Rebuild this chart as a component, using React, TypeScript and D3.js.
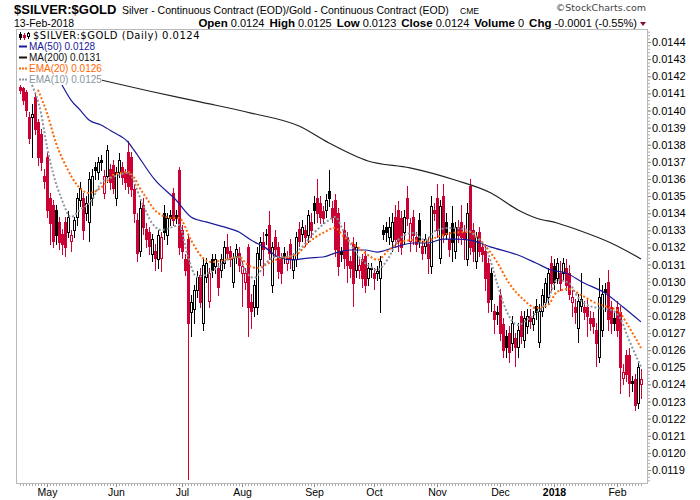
import React, { useRef, useEffect } from 'react';
import * as d3 from 'd3';

// daily candles, 19-Apr-2017 .. 13-Feb-2018 (index = trading day)
const open = [
  0.01414, 0.01413, 0.01411, 0.01396, 0.01396, 0.01408, 0.01393, 0.01386, 0.01362, 0.01373,
  0.01349, 0.01345, 0.01342, 0.01335, 0.01328, 0.01335, 0.01329, 0.01324, 0.01330, 0.01338,
  0.01348, 0.01349, 0.01340, 0.01335, 0.01349, 0.01367, 0.01364, 0.01371, 0.01352, 0.01362,
  0.01366, 0.01368, 0.01349, 0.01364, 0.01367, 0.01364, 0.01376, 0.01373, 0.01354, 0.01336,
  0.01318, 0.01345, 0.01331, 0.01329, 0.01316, 0.01318, 0.01313, 0.01314, 0.01340, 0.01327,
  0.01339, 0.01352, 0.01339, 0.01365, 0.01330, 0.01313, 0.01325, 0.01282, 0.01284, 0.01295,
  0.01304, 0.01276, 0.01303, 0.01289, 0.01313, 0.01309, 0.01308, 0.01307, 0.01311, 0.01320,
  0.01318, 0.01300, 0.01315, 0.01317, 0.01305, 0.01300, 0.01320, 0.01288, 0.01285, 0.01285,
  0.01313, 0.01323, 0.01328, 0.01333, 0.01298, 0.01326, 0.01320, 0.01314, 0.01317, 0.01311,
  0.01322, 0.01307, 0.01313, 0.01331, 0.01328, 0.01330, 0.01327, 0.01335, 0.01346, 0.01349,
  0.01346, 0.01341, 0.01342, 0.01353, 0.01343, 0.01348, 0.01340, 0.01318, 0.01330, 0.01326,
  0.01312, 0.01322, 0.01307, 0.01307, 0.01313, 0.01315, 0.01302, 0.01308, 0.01305, 0.01305,
  0.01302, 0.01330, 0.01332, 0.01326, 0.01324, 0.01338, 0.01342, 0.01337, 0.01329, 0.01349,
  0.01324, 0.01338, 0.01326, 0.01336, 0.01321, 0.01321, 0.01322, 0.01309, 0.01342, 0.01349,
  0.01314, 0.01350, 0.01335, 0.01325, 0.01334, 0.01318, 0.01332, 0.01335, 0.01329, 0.01313,
  0.01356, 0.01330, 0.01312, 0.01329, 0.01320, 0.01318, 0.01311, 0.01305, 0.01283, 0.01282,
  0.01292, 0.01275, 0.01268, 0.01270, 0.01264, 0.01267, 0.01262, 0.01280, 0.01266, 0.01274,
  0.01280, 0.01275, 0.01286, 0.01265, 0.01283, 0.01288, 0.01291, 0.01311, 0.01309, 0.01302,
  0.01305, 0.01305, 0.01308, 0.01305, 0.01288, 0.01285, 0.01273, 0.01286, 0.01285, 0.01285,
  0.01279, 0.01279, 0.01272, 0.01256, 0.01272, 0.01296, 0.01300, 0.01285, 0.01279, 0.01285,
  0.01282, 0.01244, 0.01257, 0.01257, 0.01242, 0.01243, 0.01229, 0.01240,
];
const high = [
  0.01415, 0.01414, 0.01412, 0.01399, 0.01404, 0.01410, 0.01395, 0.01389, 0.01366, 0.01376,
  0.01352, 0.01348, 0.01345, 0.01338, 0.01331, 0.01338, 0.01341, 0.01330, 0.01338, 0.01352,
  0.01358, 0.01352, 0.01350, 0.01364, 0.01366, 0.01370, 0.01373, 0.01374, 0.01365, 0.01380,
  0.01369, 0.01371, 0.01367, 0.01375, 0.01370, 0.01366, 0.01382, 0.01376, 0.01357, 0.01340,
  0.01347, 0.01349, 0.01334, 0.01332, 0.01328, 0.01322, 0.01330, 0.01329, 0.01345, 0.01340,
  0.01342, 0.01355, 0.01342, 0.01367, 0.01333, 0.01316, 0.01328, 0.01292, 0.01298, 0.01306,
  0.01308, 0.01313, 0.01314, 0.01308, 0.01316, 0.01316, 0.01311, 0.01316, 0.01324, 0.01328,
  0.01321, 0.01317, 0.01322, 0.01320, 0.01312, 0.01308, 0.01322, 0.01293, 0.01301, 0.01320,
  0.01326, 0.01329, 0.01331, 0.01341, 0.01323, 0.01330, 0.01323, 0.01317, 0.01320, 0.01318,
  0.01325, 0.01317, 0.01329, 0.01335, 0.01336, 0.01333, 0.01342, 0.01340, 0.01350, 0.01360,
  0.01350, 0.01344, 0.01351, 0.01365, 0.01347, 0.01351, 0.01343, 0.01320, 0.01335, 0.01329,
  0.01315, 0.01326, 0.01323, 0.01313, 0.01316, 0.01318, 0.01311, 0.01311, 0.01308, 0.01309,
  0.01315, 0.01333, 0.01335, 0.01338, 0.01340, 0.01345, 0.01347, 0.01341, 0.01342, 0.01356,
  0.01337, 0.01342, 0.01329, 0.01340, 0.01324, 0.01328, 0.01326, 0.01350, 0.01346, 0.01357,
  0.01348, 0.01357, 0.01340, 0.01329, 0.01344, 0.01335, 0.01336, 0.01345, 0.01333, 0.01346,
  0.01360, 0.01334, 0.01329, 0.01332, 0.01323, 0.01322, 0.01314, 0.01308, 0.01287, 0.01286,
  0.01296, 0.01279, 0.01272, 0.01274, 0.01280, 0.01270, 0.01276, 0.01283, 0.01283, 0.01284,
  0.01284, 0.01283, 0.01290, 0.01287, 0.01296, 0.01302, 0.01308, 0.01315, 0.01313, 0.01314,
  0.01312, 0.01314, 0.01313, 0.01310, 0.01295, 0.01290, 0.01293, 0.01305, 0.01289, 0.01290,
  0.01283, 0.01282, 0.01276, 0.01302, 0.01298, 0.01299, 0.01307, 0.01289, 0.01283, 0.01289,
  0.01286, 0.01252, 0.01260, 0.01261, 0.01245, 0.01246, 0.01253, 0.01249,
];
const low = [
  0.01410, 0.01404, 0.01397, 0.01381, 0.01373, 0.01386, 0.01368, 0.01365, 0.01355, 0.01338,
  0.01322, 0.01320, 0.01322, 0.01319, 0.01316, 0.01315, 0.01326, 0.01318, 0.01326, 0.01333,
  0.01344, 0.01325, 0.01336, 0.01324, 0.01345, 0.01360, 0.01360, 0.01365, 0.01349, 0.01358,
  0.01354, 0.01352, 0.01345, 0.01361, 0.01357, 0.01354, 0.01352, 0.01350, 0.01335, 0.01312,
  0.01315, 0.01328, 0.01320, 0.01316, 0.01312, 0.01307, 0.01308, 0.01306, 0.01325, 0.01322,
  0.01333, 0.01333, 0.01334, 0.01316, 0.01314, 0.01304, 0.01185, 0.01268, 0.01276, 0.01291,
  0.01285, 0.01272, 0.01300, 0.01285, 0.01303, 0.01305, 0.01292, 0.01303, 0.01308, 0.01313,
  0.01309, 0.01297, 0.01311, 0.01306, 0.01286, 0.01296, 0.01268, 0.01273, 0.01280, 0.01281,
  0.01310, 0.01304, 0.01322, 0.01313, 0.01294, 0.01315, 0.01302, 0.01299, 0.01311, 0.01307,
  0.01308, 0.01302, 0.01309, 0.01321, 0.01324, 0.01321, 0.01323, 0.01326, 0.01334, 0.01335,
  0.01334, 0.01334, 0.01338, 0.01344, 0.01335, 0.01315, 0.01304, 0.01312, 0.01308, 0.01300,
  0.01303, 0.01286, 0.01303, 0.01302, 0.01297, 0.01294, 0.01298, 0.01303, 0.01296, 0.01301,
  0.01282, 0.01325, 0.01324, 0.01322, 0.01318, 0.01320, 0.01318, 0.01316, 0.01322, 0.01333,
  0.01318, 0.01322, 0.01318, 0.01320, 0.01313, 0.01317, 0.01305, 0.01305, 0.01336, 0.01326,
  0.01311, 0.01323, 0.01325, 0.01315, 0.01312, 0.01314, 0.01323, 0.01322, 0.01313, 0.01310,
  0.01316, 0.01312, 0.01308, 0.01315, 0.01312, 0.01295, 0.01282, 0.01283, 0.01270, 0.01275,
  0.01266, 0.01256, 0.01256, 0.01253, 0.01260, 0.01251, 0.01256, 0.01264, 0.01262, 0.01270,
  0.01273, 0.01272, 0.01278, 0.01262, 0.01280, 0.01285, 0.01287, 0.01295, 0.01296, 0.01299,
  0.01295, 0.01301, 0.01295, 0.01290, 0.01280, 0.01276, 0.01265, 0.01283, 0.01278, 0.01268,
  0.01272, 0.01270, 0.01251, 0.01253, 0.01268, 0.01283, 0.01272, 0.01270, 0.01272, 0.01268,
  0.01235, 0.01240, 0.01242, 0.01233, 0.01236, 0.01225, 0.01226, 0.01232,
];
const close = [
  0.01412, 0.01406, 0.01400, 0.01384, 0.01398, 0.01389, 0.01373, 0.01370, 0.01359, 0.01342,
  0.01334, 0.01324, 0.01327, 0.01323, 0.01322, 0.01320, 0.01338, 0.01327, 0.01336, 0.01349,
  0.01355, 0.01330, 0.01346, 0.01360, 0.01362, 0.01365, 0.01370, 0.01370, 0.01362, 0.01377,
  0.01358, 0.01355, 0.01364, 0.01371, 0.01361, 0.01358, 0.01356, 0.01354, 0.01340, 0.01317,
  0.01343, 0.01332, 0.01325, 0.01321, 0.01325, 0.01314, 0.01327, 0.01326, 0.01329, 0.01337,
  0.01337, 0.01336, 0.01337, 0.01320, 0.01318, 0.01307, 0.01276, 0.01288, 0.01295, 0.01303,
  0.01288, 0.01310, 0.01311, 0.01305, 0.01307, 0.01313, 0.01297, 0.01313, 0.01320, 0.01317,
  0.01313, 0.01314, 0.01319, 0.01310, 0.01309, 0.01305, 0.01285, 0.01283, 0.01298, 0.01317,
  0.01323, 0.01319, 0.01327, 0.01317, 0.01320, 0.01319, 0.01306, 0.01305, 0.01315, 0.01314,
  0.01313, 0.01313, 0.01326, 0.01324, 0.01332, 0.01326, 0.01339, 0.01330, 0.01342, 0.01340,
  0.01338, 0.01337, 0.01348, 0.01349, 0.01338, 0.01319, 0.01309, 0.01316, 0.01314, 0.01310,
  0.01308, 0.01299, 0.01320, 0.01310, 0.01302, 0.01298, 0.01308, 0.01308, 0.01302, 0.01306,
  0.01312, 0.01328, 0.01329, 0.01332, 0.01335, 0.01325, 0.01324, 0.01320, 0.01338, 0.01337,
  0.01334, 0.01327, 0.01322, 0.01324, 0.01317, 0.01325, 0.01314, 0.01344, 0.01340, 0.01330,
  0.01344, 0.01327, 0.01328, 0.01319, 0.01323, 0.01332, 0.01327, 0.01326, 0.01325, 0.01340,
  0.01320, 0.01318, 0.01326, 0.01318, 0.01316, 0.01302, 0.01288, 0.01290, 0.01278, 0.01281,
  0.01270, 0.01260, 0.01262, 0.01259, 0.01276, 0.01262, 0.01272, 0.01268, 0.01279, 0.01280,
  0.01277, 0.01279, 0.01282, 0.01283, 0.01292, 0.01299, 0.01305, 0.01299, 0.01300, 0.01311,
  0.01299, 0.01311, 0.01298, 0.01293, 0.01291, 0.01282, 0.01289, 0.01290, 0.01282, 0.01280,
  0.01276, 0.01274, 0.01264, 0.01291, 0.01293, 0.01294, 0.01278, 0.01276, 0.01276, 0.01272,
  0.01250, 0.01247, 0.01246, 0.01241, 0.01241, 0.01228, 0.01250, 0.01243,
];

// overlays: [trading day, value]
const ma50: [number, number][] = [
  [14, 0.014149], [17, 0.014061], [20, 0.014003], [23, 0.013944], [27, 0.013915], [31, 0.013874],
  [36, 0.013816], [38, 0.013769], [45, 0.013594], [52, 0.013477], [57, 0.013378], [62, 0.013349],
  [68, 0.013320], [73, 0.013290], [77, 0.013243], [82, 0.013196], [86, 0.013144], [91, 0.013127],
  [96, 0.013138], [101, 0.013144], [105, 0.013167], [110, 0.013185], [115, 0.013185], [119, 0.013173],
  [125, 0.013202], [131, 0.013226], [136, 0.013226], [141, 0.013249], [145, 0.013249], [150, 0.013243],
  [157, 0.013202], [166, 0.013156], [172, 0.013109], [177, 0.013068], [182, 0.013051], [188, 0.012992],
  [195, 0.012934], [201, 0.012852], [207, 0.012765],
];
const ma200: [number, number][] = [
  [27, 0.014178], [43, 0.014114], [60, 0.014050], [77, 0.013985], [93, 0.013909], [103, 0.013810],
  [116, 0.013705], [130, 0.013665], [145, 0.013594], [157, 0.013518], [166, 0.013419], [172, 0.013372],
  [179, 0.013343], [186, 0.013302], [197, 0.013226], [207, 0.013133],
];
const ema20: [number, number][] = [
  [6, 0.014120], [9, 0.013985], [12, 0.013810], [16, 0.013652], [19, 0.013565], [23, 0.013518],
  [28, 0.013565], [31, 0.013623], [36, 0.013641], [41, 0.013518], [46, 0.013401], [51, 0.013372],
  [53, 0.013372], [57, 0.013243], [61, 0.013138], [64, 0.013115], [68, 0.013127], [73, 0.013144],
  [76, 0.013097], [79, 0.013080], [83, 0.013109], [87, 0.013138], [92, 0.013156], [96, 0.013226],
  [101, 0.013285], [105, 0.013314], [108, 0.013261], [113, 0.013196], [117, 0.013144], [119, 0.013127],
  [123, 0.013185], [126, 0.013226], [131, 0.013243], [135, 0.013232], [139, 0.013261], [144, 0.013285],
  [150, 0.013290], [154, 0.013232], [159, 0.013115], [163, 0.012992], [168, 0.012893], [172, 0.012846],
  [176, 0.012864], [179, 0.012940], [183, 0.012957], [187, 0.012922], [192, 0.012875], [196, 0.012852],
  [199, 0.012835], [203, 0.012735], [207, 0.012613],
];
const ema10: [number, number][] = [
  [4, 0.014149], [7, 0.013985], [9, 0.013787], [11, 0.013635], [14, 0.013477], [17, 0.013378],
  [20, 0.013419], [24, 0.013477], [27, 0.013576], [31, 0.013611], [36, 0.013635], [41, 0.013448],
  [44, 0.013343], [47, 0.013302], [51, 0.013320], [53, 0.013331], [56, 0.013144], [59, 0.013027],
  [63, 0.013051], [66, 0.013086], [69, 0.013127], [73, 0.013144], [75, 0.013068], [78, 0.013022],
  [82, 0.013109], [85, 0.013144], [89, 0.013144], [94, 0.013202], [98, 0.013285], [103, 0.013360],
  [105, 0.013378], [108, 0.013290], [113, 0.013144], [117, 0.013086], [119, 0.013068], [123, 0.013144],
  [126, 0.013243], [131, 0.013285], [135, 0.013243], [139, 0.013302], [144, 0.013314], [149, 0.013302],
  [152, 0.013261], [156, 0.013168], [159, 0.012992], [162, 0.012835], [166, 0.012747], [169, 0.012776],
  [172, 0.012817], [176, 0.012893], [179, 0.013010], [183, 0.012992], [186, 0.012909], [189, 0.012864],
  [193, 0.012846], [197, 0.012835], [200, 0.012788], [203, 0.012660], [207, 0.012502],
];

// first trading day of each month and its label
const monthDays = [9, 32, 54, 74, 98, 118, 139, 160, 178, 199];
const monthLabels = ['May', 'Jun', 'Jul', 'Aug', 'Sep', 'Oct', 'Nov', 'Dec', '2018', 'Feb'];

const priceTicks = [
  0.0119, 0.0120, 0.0121, 0.0122, 0.0123, 0.0124, 0.0125, 0.0126, 0.0127, 0.0128, 0.0129, 0.0130, 0.0131,
  0.0132, 0.0133, 0.0134, 0.0135, 0.0136, 0.0137, 0.0138, 0.0139, 0.0140, 0.0141, 0.0142, 0.0143, 0.0144,
];

const quoteLabels = ['Open', 'High', 'Low', 'Close', 'Volume', 'Chg'];
const quoteValues = ['0.0124', '0.0125', '0.0123', '0.0124', '0', '-0.0001 (-0.55%)'];

const overlayNames = ['MA(50) 0.0128', 'MA(200) 0.0131', 'EMA(20) 0.0126', 'EMA(10) 0.0125'];

const RED = '#cc0033';
const BLUE = '#1a1a9a';
const ORANGE = '#ff6600';
const GREY = '#8a96a2';
const SANS = "'Liberation Sans', Arial, sans-serif";
const VERD = "'DejaVu Sans', Verdana, sans-serif";

const App: React.FC = () => {
  const svgRef = useRef<SVGSVGElement | null>(null);

  const width = 700;
  const height = 500;
  const plotLeft = 16;
  const plotRight = 647;
  const plotTop = 29;
  const plotBottom = 483;

  useEffect(() => {
    if (!svgRef.current) {
      return;
    }
    const svg = d3.select(svgRef.current);
    svg.selectAll('*').remove();

    const days = d3.range(close.length);
    const x = d3.scalePoint<number>().domain(days).range([20, 641]);
    const y = d3.scaleLinear().domain([0.0119, 0.0144]).range([470, 42]);
    const px = (i: number) => Math.round(x(i) ?? 0);
    const py = (v: number) => Math.round(y(v));

    svg.append('rect').attr('width', width).attr('height', height).attr('fill', '#fff');

    // header
    svg.append('text').attr('x', 14).attr('y', 13.5)
      .attr('font-family', SANS).attr('font-size', 13).attr('font-weight', 'bold')
      .text('$SILVER:$GOLD');
    svg.append('text').attr('x', 122).attr('y', 14)
      .attr('font-family', SANS).attr('font-size', 10.5)
      .text('Silver - Continuous Contract (EOD)/Gold - Continuous Contract (EOD)');
    svg.append('text').attr('x', 460).attr('y', 14)
      .attr('font-family', SANS).attr('font-size', 8.5)
      .text('CME');
    svg.append('text').attr('x', 646).attr('y', 11).attr('text-anchor', 'end')
      .attr('font-family', VERD).attr('font-size', 9.5).attr('fill', '#444')
      .text('\u00A9StockCharts.com');
    svg.append('text').attr('x', 14).attr('y', 26.5)
      .attr('font-family', SANS).attr('font-size', 10.5)
      .text('13-Feb-2018');

    const quote = svg.append('text').attr('x', 637).attr('y', 26.5).attr('text-anchor', 'end')
      .attr('font-family', SANS).attr('font-size', 11);
    quoteLabels.forEach((lab, i) => {
      quote.append('tspan').attr('dx', i === 0 ? 0 : 5).attr('font-weight', 'bold')
        .attr('font-size', 11.5).text(lab);
      quote.append('tspan').attr('dx', 3).text(quoteValues[i]);
    });
    svg.append('path').attr('d', 'M640,22 L646,22 L643,26 Z').attr('fill', '#8b0a2a');

    // frame
    svg.append('rect')
      .attr('x', plotLeft + 0.5).attr('y', plotTop + 0.5)
      .attr('width', plotRight - plotLeft).attr('height', plotBottom - plotTop)
      .attr('fill', 'none').attr('stroke', '#b8b8b8');

    // right price axis with minor ticks
    svg.append('g')
      .attr('transform', `translate(${plotRight + 1},0)`)
      .call(d3.axisRight(y).tickValues(d3.range(0.01184, 0.01448, 0.00002)).tickSize(2).tickFormat(() => ''))
      .call(g => g.select('.domain').remove())
      .call(g => g.selectAll('line').attr('stroke', '#aaa'));
    svg.append('g')
      .attr('transform', `translate(${plotRight + 1},0)`)
      .call(d3.axisRight(y).tickValues(priceTicks).tickSize(3).tickPadding(1).tickFormat(d3.format('.4f')))
      .call(g => g.select('.domain').remove())
      .call(g => g.selectAll('line').attr('stroke', '#888'))
      .call(g => g.selectAll('text').attr('font-family', SANS).attr('font-size', 11).attr('fill', '#000'));

    // bottom axis: daily ticks and month labels
    svg.append('g')
      .attr('transform', `translate(0,${plotBottom + 1})`)
      .call(d3.axisBottom(x).tickValues(days).tickSize(2).tickFormat(() => ''))
      .call(g => g.select('.domain').remove())
      .call(g => g.selectAll('line').attr('stroke', '#aaa').attr('shape-rendering', 'crispEdges'));
    svg.append('g')
      .attr('transform', `translate(0,${plotBottom + 1})`)
      .call(d3.axisBottom(x).tickValues(monthDays).tickSize(3).tickPadding(2)
        .tickFormat((d) => monthLabels[monthDays.indexOf(d as number)]))
      .call(g => g.select('.domain').remove())
      .call(g => g.selectAll('line').attr('stroke', '#888'))
      .call(g => g.selectAll('text')
        .attr('font-family', SANS).attr('font-size', 10.5).attr('fill', '#000')
        .attr('font-weight', (d) => (d === 178 ? 'bold' : 'normal')));

    // candles
    const candles = svg.append('g').attr('shape-rendering', 'crispEdges');
    days.forEach((i) => {
      const up = close[i] >= open[i];
      const color = i > 0 && close[i] >= close[i - 1] ? '#000' : RED;
      const cx = px(i);
      candles.append('line')
        .attr('x1', cx + 0.5).attr('x2', cx + 0.5)
        .attr('y1', py(high[i])).attr('y2', py(low[i]) + 1)
        .attr('stroke', color);
      const top = py(Math.max(open[i], close[i]));
      const bot = py(Math.min(open[i], close[i]));
      if (up) {
        candles.append('rect')
          .attr('x', cx - 0.5).attr('y', top + 0.5)
          .attr('width', 2).attr('height', Math.max(1, bot - top))
          .attr('fill', '#fff').attr('stroke', color);
      } else {
        candles.append('rect')
          .attr('x', cx - 1).attr('y', top)
          .attr('width', 3).attr('height', Math.max(1, bot - top + 1))
          .attr('fill', color);
      }
    });

    // overlays
    const line = d3.line<[number, number]>()
      .x(d => x(d[0]) ?? 0)
      .y(d => y(d[1]))
      .curve(d3.curveMonotoneX);

    svg.append('path').datum(ma200).attr('d', line)
      .attr('fill', 'none').attr('stroke', '#222').attr('stroke-width', 1.2);
    svg.append('path').datum(ma50).attr('d', line)
      .attr('fill', 'none').attr('stroke', BLUE).attr('stroke-width', 1.2);
    svg.append('path').datum(ema20).attr('d', line)
      .attr('fill', 'none').attr('stroke', ORANGE).attr('stroke-width', 2).attr('stroke-dasharray', '2,2');
    svg.append('path').datum(ema10).attr('d', line)
      .attr('fill', 'none').attr('stroke', GREY).attr('stroke-width', 2).attr('stroke-dasharray', '2,2');

    // legend
    svg.append('rect').attr('x', plotLeft + 1).attr('y', plotTop + 1).attr('width', 190).attr('height', 13).attr('fill', '#fff');
    svg.append('rect').attr('x', plotLeft + 1).attr('y', plotTop + 14).attr('width', 85).attr('height', 40).attr('fill', '#fff');

    const icon = svg.append('g').attr('shape-rendering', 'crispEdges');
    icon.append('line').attr('x1', 20.5).attr('x2', 20.5).attr('y1', 32).attr('y2', 40).attr('stroke', '#000');
    icon.append('rect').attr('x', 19).attr('y', 34).attr('width', 3).attr('height', 4).attr('fill', '#000');
    icon.append('line').attr('x1', 24.5).attr('x2', 24.5).attr('y1', 33).attr('y2', 40).attr('stroke', RED);
    icon.append('rect').attr('x', 23).attr('y', 35).attr('width', 3).attr('height', 3).attr('fill', RED);
    icon.append('line').attr('x1', 28.5).attr('x2', 28.5).attr('y1', 32).attr('y2', 39).attr('stroke', '#000');
    icon.append('rect').attr('x', 27.5).attr('y', 33.5).attr('width', 2).attr('height', 3).attr('fill', '#fff').attr('stroke', '#000');

    svg.append('text').attr('x', 33).attr('y', 39)
      .attr('font-family', VERD).attr('font-size', 10).attr('letter-spacing', 0.5)
      .text('$SILVER:$GOLD (Daily) 0.0124');

    const legendColors = [BLUE, '#111', ORANGE, GREY];
    const legendDash = ['', '', '2,1', '2,1'];
    overlayNames.forEach((name, k) => {
      const ly = 46 + k * 11;
      svg.append('line')
        .attr('x1', 19).attr('x2', 27).attr('y1', ly + 0.5).attr('y2', ly + 0.5)
        .attr('stroke', legendColors[k]).attr('stroke-width', 2)
        .attr('stroke-dasharray', legendDash[k]);
      svg.append('text').attr('x', 29).attr('y', ly + 4)
        .attr('font-family', SANS).attr('font-size', 10)
        .attr('fill', legendColors[k])
        .text(name);
    });
  }, []);

  return (
    <div>
      <svg ref={svgRef} width={width} height={height}
        style={{ position: 'absolute', left: 0, top: 0 }} />
    </div>
  );
};

export default App;
